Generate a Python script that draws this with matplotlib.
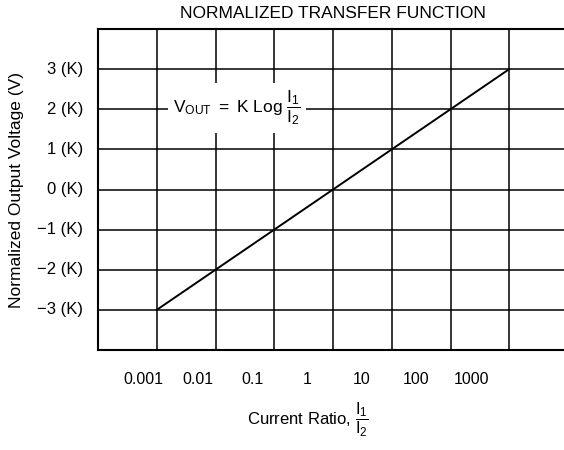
import numpy as np
import matplotlib.pyplot as plt
import matplotlib.transforms as mtransforms

plt.rcParams['font.family'] = ['Liberation Sans', 'DejaVu Sans']
plt.rcParams['mathtext.fontset'] = 'custom'
plt.rcParams['mathtext.rm'] = 'Liberation Sans'
plt.rcParams['mathtext.it'] = 'Liberation Sans'

# data
current_ratio = [0.001, 0.01, 0.1, 1, 10, 100, 1000]
vout_k = [-3, -2, -1, 0, 1, 2, 3]
x_tick_labels = ['0.001', '0.01', '0.1', '1', '10', '100', '1000']
y_ticks = [-3, -2, -1, 0, 1, 2, 3]
y_tick_labels = ['\u22123 (K)', '\u22122 (K)', '\u22121 (K)', '0 (K)', '1 (K)', '2 (K)', '3 (K)']

fig = plt.figure(figsize=(5.64, 4.5), dpi=100)
ax = fig.add_axes([98 / 564, 100 / 450, 470 / 564, 321 / 450])

ax.set_xscale('log')
ax.set_xlim(1e-4, 1e4)
ax.set_ylim(-4, 4)

# grid
ax.set_xticks([10.0 ** k for k in range(-4, 5)])
ax.set_yticks(range(-4, 5))
ax.xaxis.set_minor_locator(plt.NullLocator())
ax.grid(True, which='major', color='black', linewidth=1.1)
ax.tick_params(length=0, labelbottom=False, labelleft=False)
for s in ax.spines.values():
    s.set_linewidth(1.5)

ax.plot(current_ratio, vout_k, color='black', linewidth=1.4, zorder=3)

# y tick labels
for v, lab in zip(y_ticks, y_tick_labels):
    ax.text(-15 / 470, v, lab, transform=ax.get_yaxis_transform(),
            ha='right', va='center', fontsize=12)

# x tick labels (shifted left as in the original print)
for i, (v, lab) in enumerate(zip(current_ratio, x_tick_labels)):
    off = mtransforms.ScaledTranslation((-13 - 4.2 * i) / 100, 0, fig.dpi_scale_trans)
    ax.text(v, -30 / 321, lab, transform=ax.get_xaxis_transform() + off,
            ha='center', va='center', fontsize=11.5)

ax.text((308 - 98) / 470, -(420 - 350) / 321,
        r'Current Ratio, $\mathregular{\dfrac{I_1}{I_2}}$',
        transform=ax.transAxes, ha='center', va='center', fontsize=12)

ax.text(-81 / 470, 0.5, 'Normalized Output Voltage (V)', transform=ax.transAxes,
        rotation=90, ha='center', va='center', fontsize=12.5)

fig.text(333 / 564, 1 - 14 / 450, 'NORMALIZED TRANSFER FUNCTION',
         ha='center', va='center', fontsize=12.5)

# equation box
ax.text((237 - 98) / 470, (350 - 108) / 321,
        r'$\mathregular{V_{OUT}\ =\ K\ Log\ \dfrac{I_1}{I_2}}$',
        transform=ax.transAxes, ha='center', va='center', fontsize=12.5, zorder=4,
        bbox=dict(boxstyle='square,pad=0.3', facecolor='white', edgecolor='none'))

fig.savefig('out.png', dpi=100)
